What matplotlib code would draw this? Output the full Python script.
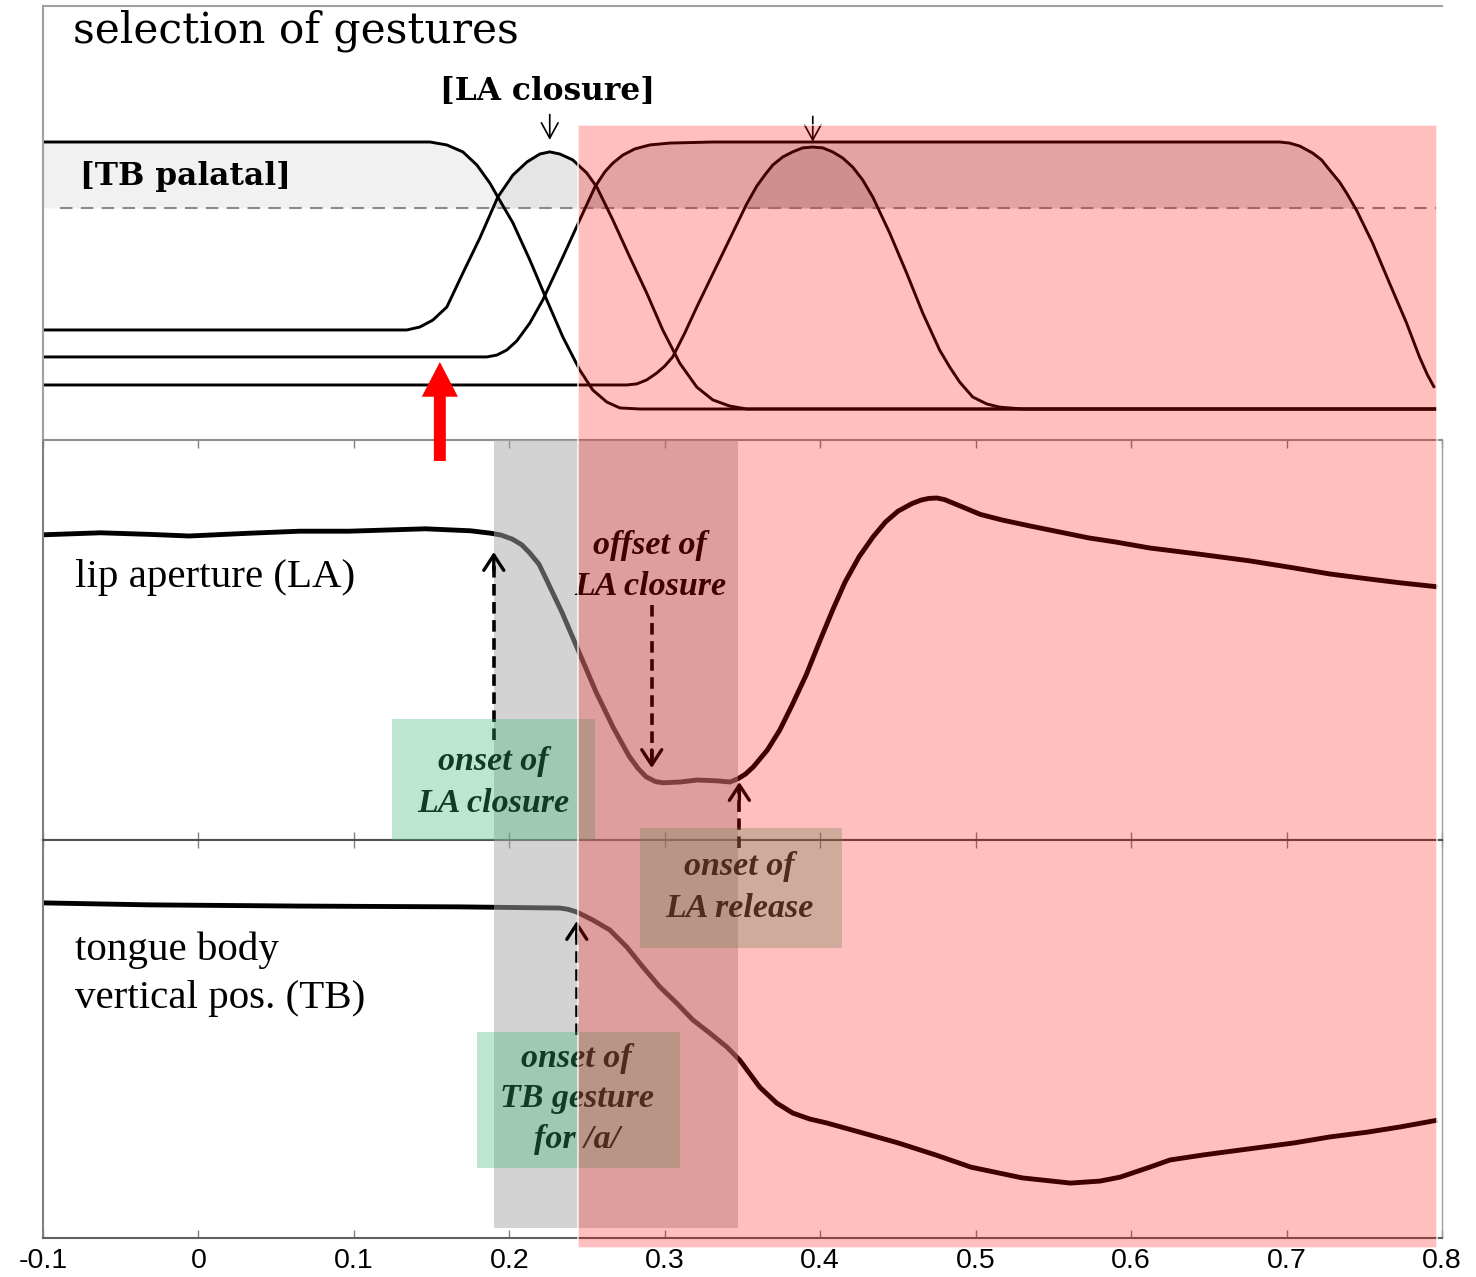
import matplotlib
matplotlib.use('Agg')
import matplotlib.pyplot as plt
import numpy as np
from matplotlib.patches import Rectangle

W, H, DPI = 1476, 1277, 100
X0, X1 = 43, 1442  # pixel columns of t=-0.1 and t=0.8

# --- gesture activations (top panel), time in s, activation 0..1 ---
t_tb_pal = [-0.100, 0.1489, 0.1598, 0.1701, 0.1791, 0.1875, 0.1926, 0.2023, 0.2132, 0.2241,
            0.2344, 0.2453, 0.2537, 0.2627, 0.2711, 0.2839, 0.7965]
a_tb_pal = [1.0, 1.0, 0.989, 0.963, 0.914, 0.846, 0.794, 0.697, 0.558, 0.408,
            0.270, 0.146, 0.071, 0.026, 0.004, 0.0, 0.0]

t_la_clo = [-0.100, 0.1341, 0.1424, 0.1508, 0.1598, 0.1701, 0.181, 0.1926, 0.2023, 0.2113,
            0.2196, 0.226, 0.2325, 0.2408, 0.2498, 0.2563, 0.2666, 0.2775, 0.2884, 0.2987,
            0.3096, 0.3206, 0.3309, 0.3418, 0.3527, 0.7965]
a_la_clo = [0.296, 0.296, 0.307, 0.333, 0.382, 0.509, 0.640, 0.794, 0.876, 0.925,
            0.955, 0.963, 0.955, 0.933, 0.884, 0.831, 0.708, 0.569, 0.434, 0.296,
            0.172, 0.082, 0.034, 0.011, 0.0, 0.0]

t_tb_a = [-0.100, 0.1855, 0.1920, 0.1984, 0.2048, 0.2132, 0.2215, 0.2344, 0.2453, 0.255,
          0.2614, 0.2666, 0.273, 0.2807, 0.2904, 0.3032, 0.3309, 0.6955, 0.7019, 0.7084,
          0.7167, 0.7225, 0.7277, 0.7341, 0.7386, 0.745, 0.7553, 0.7662, 0.7772, 0.7855,
          0.7907, 0.7952]
a_tb_a = [0.195, 0.195, 0.202, 0.221, 0.255, 0.322, 0.408, 0.569, 0.708, 0.831,
          0.888, 0.921, 0.951, 0.974, 0.989, 0.996, 1.0, 1.0, 0.996, 0.985,
          0.959, 0.933, 0.895, 0.850, 0.809, 0.745, 0.622, 0.472, 0.322, 0.195,
          0.127, 0.079]

t_la_rel = [-0.100, 0.2756, 0.282, 0.2884, 0.2949, 0.300, 0.3051, 0.3129, 0.3206, 0.3309,
            0.3418, 0.3527, 0.3592, 0.3643, 0.3695, 0.3759, 0.3823, 0.3887, 0.3952, 0.4016,
            0.408, 0.4145, 0.4209, 0.4273, 0.4338, 0.4447, 0.4556, 0.4659, 0.4768, 0.4833,
            0.4897, 0.4981, 0.5071, 0.5154, 0.5302, 0.7965]
a_la_rel = [0.090, 0.090, 0.094, 0.109, 0.135, 0.161, 0.195, 0.285, 0.382, 0.506,
            0.637, 0.768, 0.835, 0.876, 0.914, 0.944, 0.963, 0.978, 0.981, 0.978,
            0.963, 0.940, 0.906, 0.858, 0.794, 0.659, 0.509, 0.360, 0.221, 0.157,
            0.101, 0.045, 0.019, 0.007, 0.0, 0.0]

threshold = 0.753

# --- articulator trajectories (normalised) ---
t_la = [-0.100, -0.063, -0.031, -0.006, 0.033, 0.065, 0.097, 0.146, 0.175, 0.188,
        0.195, 0.202, 0.208, 0.213, 0.219, 0.224, 0.234, 0.245, 0.256, 0.267,
        0.277, 0.283, 0.288, 0.294, 0.299, 0.310, 0.321, 0.333, 0.342, 0.347,
        0.352, 0.357, 0.366, 0.374, 0.382, 0.391, 0.400, 0.408, 0.416, 0.425,
        0.434, 0.442, 0.450, 0.459, 0.465, 0.470, 0.475, 0.480, 0.490, 0.503,
        0.517, 0.535, 0.554, 0.573, 0.590, 0.612, 0.641, 0.676, 0.705, 0.728,
        0.752, 0.773, 0.797]
la = [0.763, 0.768, 0.764, 0.760, 0.767, 0.772, 0.772, 0.778, 0.773, 0.767,
      0.762, 0.752, 0.738, 0.718, 0.690, 0.650, 0.568, 0.468, 0.368, 0.280,
      0.210, 0.178, 0.158, 0.146, 0.143, 0.145, 0.150, 0.148, 0.145, 0.153,
      0.165, 0.183, 0.225, 0.275, 0.338, 0.413, 0.500, 0.575, 0.645, 0.708,
      0.758, 0.795, 0.822, 0.841, 0.850, 0.854, 0.855, 0.851, 0.835, 0.814,
      0.800, 0.785, 0.770, 0.755, 0.745, 0.730, 0.716, 0.698, 0.680, 0.665,
      0.653, 0.643, 0.633]

t_tb = [-0.100, -0.031, 0.065, 0.168, 0.2325, 0.2376, 0.2434, 0.2537, 0.2646, 0.2756,
        0.2859, 0.2968, 0.3077, 0.318, 0.3289, 0.3399, 0.3482, 0.3611, 0.3720, 0.3823,
        0.3932, 0.4042, 0.4254, 0.450, 0.474, 0.497, 0.530, 0.561, 0.580, 0.593,
        0.612, 0.625, 0.647, 0.676, 0.705, 0.728, 0.752, 0.773, 0.797]
tb = [0.842, 0.837, 0.834, 0.832, 0.829, 0.826, 0.819, 0.799, 0.774, 0.731,
      0.681, 0.631, 0.590, 0.548, 0.515, 0.480, 0.447, 0.379, 0.339, 0.314,
      0.299, 0.289, 0.266, 0.239, 0.209, 0.178, 0.151, 0.138, 0.143, 0.153,
      0.178, 0.196, 0.209, 0.224, 0.239, 0.254, 0.266, 0.279, 0.296]

# --- landmark times (s) ---
onset_la_closure = 0.19
onset_tb_a = 0.2434
offset_la_closure = 0.2916
onset_la_release = 0.348
selection_time = 0.1553
red_end = 0.7965

xticks = [-0.1, 0.0, 0.1, 0.2, 0.3, 0.4, 0.5, 0.6, 0.7, 0.8]
xticklabels = ['-0.1', '0', '0.1', '0.2', '0.3', '0.4', '0.5', '0.6', '0.7', '0.8']

SERIF = 'Liberation Serif'
WIDE_SERIF = 'DejaVu Serif'
SANS = 'Liberation Sans'


def rect(top, bottom):
    return [X0 / W, 1 - bottom / H, (X1 - X0) / W, (bottom - top) / H]


fig = plt.figure(figsize=(W / DPI, H / DPI), dpi=DPI)
ax_g = fig.add_axes(rect(6, 440))
ax_la = fig.add_axes(rect(440, 840))
ax_tb = fig.add_axes(rect(840, 1238))

# top panel: gestures
ax_g.set_xlim(-0.1, 0.8)
ax_g.set_ylim(-31 / 267, 403 / 267)
ax_g.axhline(threshold, xmin=0.012, xmax=0.996, color='#8a8a8a', lw=1.5, dashes=(6, 4))
for tt, aa, alpha in [(t_tb_pal, a_tb_pal, 0.055), (t_la_clo, a_la_clo, 0.10),
                      (t_tb_a, a_tb_a, 0.145), (t_la_rel, a_la_rel, 0.12)]:
    tt, aa = np.array(tt), np.array(aa)
    ax_g.fill_between(tt, threshold, aa, where=aa >= threshold, interpolate=True,
                      color='k', alpha=alpha, lw=0)
    ax_g.plot(tt, aa, color='k', lw=2.1, solid_capstyle='butt', solid_joinstyle='round')

for tt, aa, gap in [(t_la_clo, a_la_clo, 0.045), (t_la_rel, a_la_rel, 0.02)]:
    i = int(np.argmax(aa))
    ax_g.annotate('', xy=(tt[i], aa[i] + gap), xytext=(tt[i], aa[i] + gap + 0.095),
                  arrowprops=dict(arrowstyle='->,head_length=0.55,head_width=0.3',
                                  lw=1.2, color='k', shrinkA=0, shrinkB=0, mutation_scale=20))

ax_g.set_xticks([])
ax_g.set_yticks([])
for s in ['right', 'bottom']:
    ax_g.spines[s].set_visible(False)
for s in ['left', 'top']:
    ax_g.spines[s].set_color('#a0a0a0')
    ax_g.spines[s].set_linewidth(1.5)

# middle / bottom panels
ax_la.plot(t_la, la, color='k', lw=3.5, solid_capstyle='butt', solid_joinstyle='round')
ax_tb.plot(t_tb, tb, color='k', lw=3.5, solid_capstyle='butt', solid_joinstyle='round')
for ax in (ax_la, ax_tb):
    ax.set_xlim(-0.1, 0.8)
    ax.set_ylim(0, 1)
    ax.set_yticks([])
    ax.set_xticks(xticks)
    ax.tick_params(axis='x', direction='in', top=True, bottom=True, length=6,
                   width=1, color='#808080', pad=7)
    ax.spines['left'].set_color('#808080')
    ax.spines['right'].set_color('#a0a0a0')
    ax.spines['right'].set_linewidth(1)
    for s in ['left', 'top', 'bottom']:
        ax.spines[s].set_linewidth(1.5)
ax_la.spines['top'].set_color('#909090')
ax_la.spines['bottom'].set_color('#505050')
ax_tb.spines['top'].set_color('#505050')
ax_tb.spines['bottom'].set_color('#606060')
ax_la.set_xticklabels([])
ax_tb.set_xticklabels(xticklabels, fontsize=20.5, family=SANS)

# overlay: x in seconds, y in pixel rows
ov = fig.add_axes([X0 / W, 0, (X1 - X0) / W, 1], zorder=10)
ov.set_xlim(-0.1, 0.8)
ov.set_ylim(H, 0)
ov.axis('off')
ov.patch.set_visible(False)

ov.text(-0.0807, 43, 'selection of gestures', family=WIDE_SERIF, fontsize=30.5, va='baseline')
ov.text(0.2248, 92, '[LA closure]', family=WIDE_SERIF, fontsize=22.5, weight='bold',
        ha='center', va='center')
ov.text(-0.0762, 176, '[TB palatal]', family=WIDE_SERIF, fontsize=22.5, weight='bold',
        va='center')
ov.text(-0.0794, 587, 'lip aperture (LA)', family=SERIF, fontsize=29.5, va='baseline')
ov.text(-0.0794, 960, 'tongue body', family=SERIF, fontsize=29.5, va='baseline')
ov.text(-0.0794, 1008, 'vertical pos. (TB)', family=SERIF, fontsize=29.5, va='baseline')

# shaded intervals (gray < notes < green boxes < red)
ov.add_patch(Rectangle((onset_la_closure, 440), onset_la_release - 0.001 - onset_la_closure, 788,
                       facecolor='#a8a8a8', alpha=0.5, lw=0, zorder=3))

notes = [
    (offset_la_closure - 0.001, [(554, 'offset of'), (595, 'LA closure')]),
    (onset_la_closure, [(770, 'onset of'), (812, 'LA closure')]),
    (onset_la_release, [(875, 'onset of'), (917, 'LA release')]),
    (onset_tb_a, [(1067, 'onset of'), (1107, 'TB gesture'), (1148, 'for /a/')]),
]
for x, lines in notes:
    for y, s in lines:
        ov.text(x, y, s, family=SERIF, fontsize=24.5, weight='bold', style='italic',
                ha='center', va='baseline', zorder=3.5)

# dashed landmark arrows: (time, tail row, tip row)
for x, y0, y1 in [(onset_la_closure, 740, 552), (offset_la_closure, 605, 768),
                  (onset_la_release, 848, 782), (onset_tb_a, 1035, 921)]:
    d = 18 if y1 < y0 else -18
    ov.plot([x, x], [y0, y1 + d * 0.3], color='k', lw=2.6, dashes=(3.2, 1.8), zorder=3.5)
    ov.annotate('', xy=(x, y1), xytext=(x, y1 + d),
                arrowprops=dict(arrowstyle='->,head_length=0.55,head_width=0.36', lw=2.4,
                                color='k', shrinkA=0, shrinkB=0, mutation_scale=20), zorder=3.5)

box_w = 0.1305
for x, top, bottom in [(onset_la_closure, 719, 840), (onset_la_release + 0.001, 828, 948),
                       (onset_tb_a + 0.001, 1032, 1168)]:
    ov.add_patch(Rectangle((x - box_w / 2, top), box_w, bottom - top,
                           facecolor='#3cb371', alpha=0.33, lw=0, zorder=4))
ov.add_patch(Rectangle((onset_tb_a + 0.0006, 125), red_end - onset_tb_a, 1123,
                       facecolor=(1, 0, 0, 0.25), edgecolor=(1, 1, 1, 0.8), lw=1.2, zorder=5))

# red arrow marking the selection time
ov.annotate('', xy=(selection_time, 362), xytext=(selection_time, 461),
            arrowprops=dict(arrowstyle='simple,head_length=2.5,head_width=2.6,tail_width=0.86',
                            mutation_scale=10, fc='#ff0000', ec='none', shrinkA=0, shrinkB=0),
            zorder=6)

fig.savefig('out.png', dpi=DPI)
